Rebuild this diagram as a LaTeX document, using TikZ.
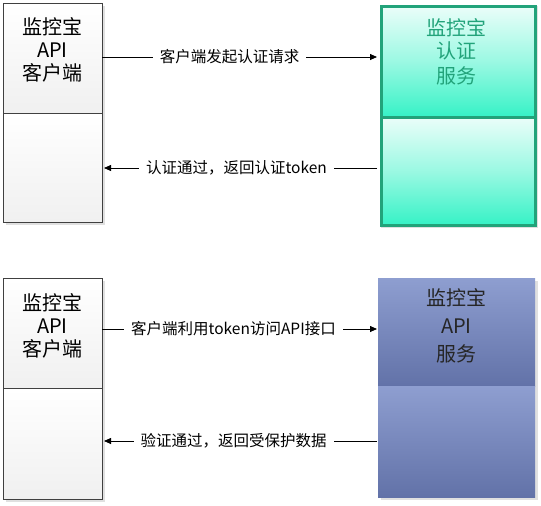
\documentclass[tikz,border=0pt]{standalone}
\usepackage{fontspec}
\setmainfont{Noto Sans CJK SC}
\usetikzlibrary{arrows.meta}
\definecolor{grn}{HTML}{22A37A}
\definecolor{mint}{HTML}{36F2C6}
\definecolor{blueT}{HTML}{8E9ED0}
\definecolor{blueB}{HTML}{6272A8}
\definecolor{cli}{HTML}{F0F0F0}
\tikzset{
  clientbox/.style={draw=black!75, line width=0.8pt, top color=white, bottom color=cli, minimum width=99, anchor=north west, inner sep=0},
  authbox/.style={draw=grn, line width=3pt, top color=white!90!mint, bottom color=mint, middle color=white!50!mint, anchor=north west, minimum width=154, inner sep=0},
  apibox/.style={top color=blueT, bottom color=blueB, anchor=north west, minimum width=157, inner sep=0},
  lbl/.style={font=\fontsize{15.5}{18}\selectfont, fill=white, inner xsep=7pt, inner ysep=2pt},
  title/.style={font=\fontsize{20}{23}\selectfont, align=center},
  conn/.style={line width=0.8pt, -{Triangle[length=7pt,width=6pt]}},
}
\begin{document}
\begin{tikzpicture}[x=1pt,y=-1pt]
\useasboundingbox (0,0) rectangle (541,506);
% shadows
\fill[black!12] (6,6) rectangle (105,225);
\fill[black!12] (6,281) rectangle (105,502);
\fill[black!12] (381,6) rectangle (538,228);
\fill[black!12] (381,281) rectangle (538,500);
% top client
\node[clientbox, minimum height=110] (c1a) at (3,3) {};
\node[clientbox, minimum height=109] (c1b) at (3,113) {};
\node[title] (t1) at (52.5,50) {监控宝\\API\\客户端};
% top server
\node[authbox, minimum height=111] (s1a) at (379.5,4.5) {};
\node[authbox, minimum height=108] (s1b) at (379.5,115.5) {};
\node[title, text=grn] (t2) at (456.5,52) {监控宝\\认证\\[2pt]服务};
% bottom client
\node[clientbox, minimum height=110] (c2a) at (3,278) {};
\node[clientbox, minimum height=111] (c2b) at (3,388) {};
\node[title] (t3) at (52.5,326) {监控宝\\API\\客户端};
% bottom server
\node[apibox, minimum height=108] (s2a) at (378,278) {};
\node[apibox, minimum height=111] (s2b) at (378,386) {};
\node[title, text=black!85] (t4) at (456.5,326) {监控宝\\[5pt]API\\[5pt]服务};
% arrows
\coordinate (a1s) at (102,57); \coordinate (a1e) at (377,57);
\draw[conn] (a1s) -- (a1e) node[lbl, midway, xshift=-10] (l1) {客户端发起认证请求};
\coordinate (a2s) at (377,168); \coordinate (a2e) at (104,168);
\draw[conn] (a2s) -- (a2e) node[lbl, midway, xshift=-4] (l2) {认证通过，返回认证token};
\coordinate (a3s) at (102,329); \coordinate (a3e) at (377,329);
\draw[conn] (a3s) -- (a3e) node[lbl, midway, xshift=-6] (l3) {客户端利用token访问API接口};
\coordinate (a4s) at (377,441); \coordinate (a4e) at (104,441);
\draw[conn] (a4s) -- (a4e) node[lbl, midway, xshift=-7] (l4) {验证通过，返回受保护数据};
\end{tikzpicture}
\end{document}
